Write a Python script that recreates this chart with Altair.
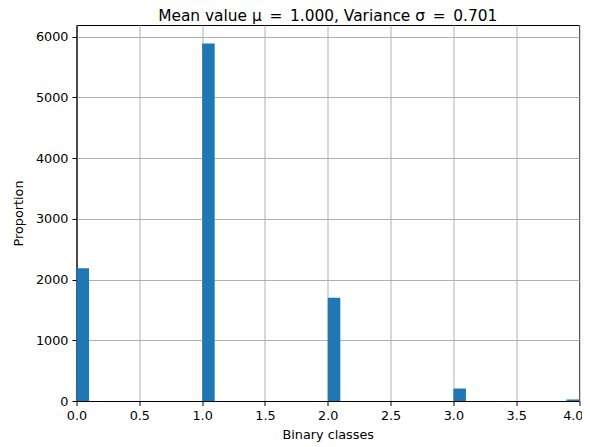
import altair as alt
import pandas as pd
import numpy as np

classes = [0, 1, 2, 3, 4]
counts = [2185, 5885, 1700, 205, 25]
title_text = "Mean value μ\u2002=\u20021.000, Variance σ\u2002=\u20020.701"
x_ticks = [0.0, 0.5, 1.0, 1.5, 2.0, 2.5, 3.0, 3.5, 4.0]
y_ticks = [0, 1000, 2000, 3000, 4000, 5000, 6000]

# 40 equal bins on [0, 4] (last bin closed on the right, like numpy/matplotlib)
bin_w = 0.1
starts = [min(np.floor(c / bin_w + 1e-9) * bin_w, 4 - bin_w) for c in classes]
df = pd.DataFrame({
    "start": starts,
    "end": [s + bin_w for s in starts],
    "count": counts,
})

FONT = "DejaVu Sans"

chart = alt.Chart(df).mark_bar(color="#1f77b4", strokeWidth=0).encode(
    x=alt.X("start:Q",
            scale=alt.Scale(domain=[0, 4], nice=False, zero=False),
            axis=alt.Axis(values=x_ticks, format=".1f", title="Binary classes",
                          labelFlush=False, labelBound=False, labelOverlap=False,
                          labelAlign=alt.condition("datum.value >= 4", alt.value("right"), alt.value("center")),
                          labelOffset=alt.condition("datum.value >= 4", alt.value(4), alt.value(0)),
                          titlePadding=6)),
    x2="end:Q",
    y=alt.Y("count:Q",
            scale=alt.Scale(domain=[0, 6190], nice=False),
            axis=alt.Axis(values=y_ticks, format="d", title="Proportion",
                          labelFlush=False, labelBound=False, labelOverlap=False,
                          titlePadding=10)),
    y2=alt.datum(0),
).properties(
    width=502.5,
    height=376,
    title=alt.TitleParams(title_text, font=FONT, fontSize=15.4, fontWeight="normal",
                          color="black", anchor="middle", offset=1),
    autosize=alt.AutoSizeParams(type="none"),
    padding={"left": 68.5, "top": 17, "right": 3, "bottom": 46},
    background="white",
).configure_view(
    stroke="black", strokeWidth=1, fill="white"
).configure_axis(
    labelFont=FONT, titleFont=FONT, labelFontSize=12.8, titleFontSize=12.8,
    titleFontWeight="normal", labelColor="black", titleColor="black",
    tickColor="black", tickSize=4.5, tickWidth=1, domainColor="black", domainWidth=1,
    labelPadding=4, grid=True, gridColor="#b0b0b0", gridWidth=1,
)

chart.save("out.html", embed_options={"renderer": "svg", "actions": False})
